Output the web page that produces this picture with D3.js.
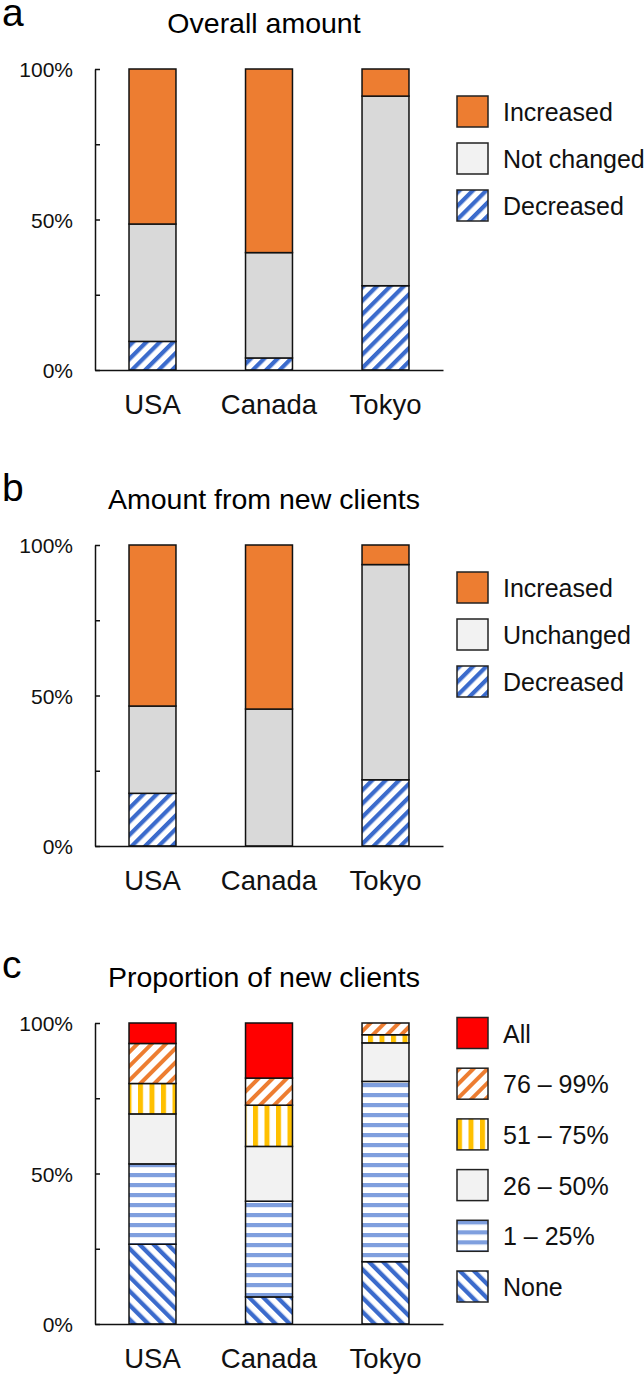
<!DOCTYPE html>
<html>
<head>
<meta charset="utf-8">
<script src="https://cdn.jsdelivr.net/npm/d3@7"></script>
<style>
  body { margin: 0; background: #fff; }
  svg { display: block; font-family: Arial, "Liberation Sans", sans-serif; }
</style>
</head>
<body>
<div class="container"></div>
<script>
var countries = ['USA', 'Canada', 'Tokyo'];

// panel a
var overallKeys = ['Decreased', 'Not changed', 'Increased'];
var overallDecreased = [9.5, 4, 28];
var overallNotChanged = [39, 35, 63];
var overallIncreased = [51.5, 61, 9];

// panel b
var newKeys = ['Decreased', 'Unchanged', 'Increased'];
var newDecreased = [17.5, 0, 22];
var newUnchanged = [29, 45.5, 71.5];
var newIncreased = [53.5, 54.5, 6.5];

// panel c
var propKeys = ['None', '1 – 25%', '26 – 50%', '51 – 75%', '76 – 99%', 'All'];
var propNone = [26.5, 9, 20.7];
var propLow = [26.7, 31.8, 59.9];
var propMid = [16.6, 18.2, 12.8];
var propHigh = [10.1, 13.7, 2.7];
var propMost = [13.3, 9, 3.9];
var propAll = [6.8, 18.3, 0];

var yTicks = [0, 25, 50, 75, 100];

function rows(keys, series) {
	return countries.map(function(c, i) {
		var r = { country: c };
		keys.forEach(function(k, j) {
			r[k] = series[j][i];
		});
		return r;
	});
}

var svg = d3
	.select('.container')
	.append('svg')
	.attr('width', 644)
	.attr('height', 1375);

var defs = svg.append('defs');

function stripes(id, color, size, width, angle) {
	var p = defs
		.append('pattern')
		.attr('id', id)
		.attr('patternUnits', 'userSpaceOnUse')
		.attr('width', size)
		.attr('height', size)
		.attr('patternTransform', 'rotate(' + angle + ')');
	p.append('rect').attr('width', size).attr('height', size).attr('fill', '#fff');
	p.append('rect').attr('width', width).attr('height', size).attr('fill', color);
}

stripes('blueUp', '#3b6bcc', 9.5, 4.2, 45);
stripes('blueDown', '#3b6bcc', 10, 4.3, -45);
stripes('orangeUp', '#ed7d31', 10, 4, 45);
stripes('yellowVert', '#ffc000', 11.5, 5, 0);
stripes('blueHoriz', '#7f9fde', 10, 4.2, 90);

var x = d3
	.scaleBand()
	.domain(countries)
	.range([95, 443])
	.paddingInner(0.597)
	.paddingOuter(0.292);

function drawPanel(opt) {
	var g = svg.append('g').attr('transform', 'translate(0,' + opt.top + ')');
	var h = 301;
	var y = d3.scaleLinear().domain([0, 100]).range([h, 0]);

	g.append('text')
		.attr('x', 2)
		.attr('y', opt.letterY)
		.attr('font-size', 39)
		.text(opt.letter);

	g.append('text')
		.attr('x', 264)
		.attr('y', -36)
		.attr('text-anchor', 'middle')
		.attr('font-size', 28.5)
		.text(opt.title);

	var stacked = d3.stack().keys(opt.keys)(opt.data);

	var layers = g
		.append('g')
		.selectAll('g')
		.data(stacked)
		.enter()
		.append('g')
		.attr('fill', function(d) {
			return opt.fills[d.key];
		});

	layers
		.selectAll('rect')
		.data(function(d) {
			return d.filter(function(s) {
				return s[1] - s[0] > 0;
			});
		})
		.enter()
		.append('rect')
		.attr('x', function(d) {
			return x(d.data.country);
		})
		.attr('y', function(d) {
			return y(d[1]);
		})
		.attr('width', x.bandwidth())
		.attr('height', function(d) {
			return y(d[0]) - y(d[1]);
		})
		.attr('stroke', '#111')
		.attr('stroke-width', 1.5);

	var yAxis = g
		.append('g')
		.attr('transform', 'translate(95,0)')
		.call(
			d3
				.axisLeft(y)
				.tickValues(yTicks)
				.tickSizeInner(-5)
				.tickSizeOuter(0)
				.tickFormat(function(d) {
					return d % 50 === 0 ? d + '%' : '';
				})
		);
	yAxis.select('.domain').attr('stroke', '#111').attr('stroke-width', 1.5);
	yAxis.selectAll('.tick line').attr('stroke', '#111').attr('stroke-width', 1.5);
	yAxis
		.selectAll('.tick text')
		.attr('x', -22)
		.attr('dy', '0.36em')
		.attr('font-size', 21)
		.attr('font-family', 'Arial, "Liberation Sans", sans-serif')
		.attr('fill', '#111');

	var xAxis = g
		.append('g')
		.attr('transform', 'translate(0,' + h + ')')
		.call(d3.axisBottom(x).tickSize(0).tickSizeOuter(0));
	xAxis.select('.domain').attr('stroke', '#111').attr('stroke-width', 1.7);
	xAxis
		.selectAll('.tick text')
		.attr('y', 44)
		.attr('dy', 0)
		.attr('font-size', 27.5)
		.attr('font-family', 'Arial, "Liberation Sans", sans-serif')
		.attr('fill', '#111');

	var legendKeys = opt.keys.slice().reverse();
	var leg = g
		.append('g')
		.selectAll('g')
		.data(legendKeys)
		.enter()
		.append('g')
		.attr('transform', function(d, i) {
			return 'translate(457,' + (opt.legendTop + i * opt.legendStep) + ')';
		});
	leg.append('rect')
		.attr('width', 31)
		.attr('height', 31)
		.attr('fill', function(d) {
			return opt.legendFills[d] || opt.fills[d];
		})
		.attr('stroke', '#222')
		.attr('stroke-width', 1.5);
	leg.append('text')
		.attr('x', 46)
		.attr('y', 25)
		.attr('font-size', 25)
		.attr('fill', '#111')
		.text(function(d) {
			return d;
		});
}

drawPanel({
	top: 69,
	letter: 'a',
	letterY: -43,
	title: 'Overall amount',
	keys: overallKeys,
	data: rows(overallKeys, [overallDecreased, overallNotChanged, overallIncreased]),
	fills: { 'Decreased': 'url(#blueUp)', 'Not changed': '#d9d9d9', 'Increased': '#ed7d31' },
	legendFills: { 'Not changed': '#f2f2f2' },
	legendTop: 27,
	legendStep: 47
});

drawPanel({
	top: 545,
	letter: 'b',
	letterY: -44,
	title: 'Amount from new clients',
	keys: newKeys,
	data: rows(newKeys, [newDecreased, newUnchanged, newIncreased]),
	fills: { 'Decreased': 'url(#blueUp)', 'Unchanged': '#d9d9d9', 'Increased': '#ed7d31' },
	legendFills: { 'Unchanged': '#f2f2f2' },
	legendTop: 27,
	legendStep: 47
});

drawPanel({
	top: 1023,
	letter: 'c',
	letterY: -45,
	title: 'Proportion of new clients',
	keys: propKeys,
	data: rows(propKeys, [propNone, propLow, propMid, propHigh, propMost, propAll]),
	fills: {
		'None': 'url(#blueDown)',
		'1 – 25%': 'url(#blueHoriz)',
		'26 – 50%': '#f2f2f2',
		'51 – 75%': 'url(#yellowVert)',
		'76 – 99%': 'url(#orangeUp)',
		'All': '#ff0000'
	},
	legendFills: {},
	legendTop: -5.5,
	legendStep: 50.7
});
</script>
</body>
</html>
